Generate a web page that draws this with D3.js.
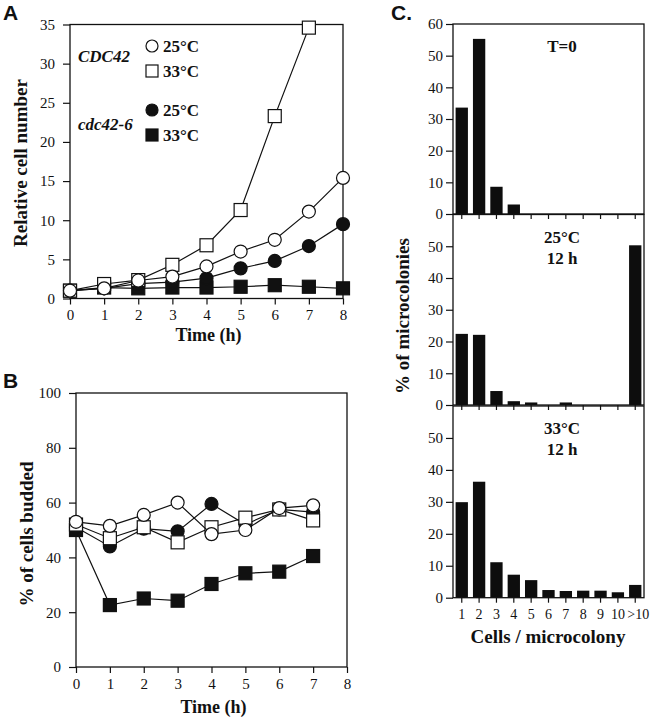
<!DOCTYPE html>
<html>
<head>
<meta charset="utf-8">
<script src="https://cdn.jsdelivr.net/npm/d3@7"></script>
<style>
  body { margin: 0; background: #fff; }
  text { font-family: "Liberation Serif", "Times New Roman", serif; fill: #111; }
</style>
</head>
<body>
<script>
const width = 660;
const height = 720;

// Panel A: relative cell number over time
const timeA = [0, 1, 2, 3, 4, 5, 6, 7, 8];
const wt25A = [1, 1.3, 2.3, 2.8, 4.1, 6.0, 7.5, 11.1, 15.4];
const wt33A = [1, 1.85, 2.35, 4.3, 6.8, 11.3, 23.3, 34.6];
const mut25A = [1, 1.3, 1.9, 2.1, 2.6, 3.85, 4.8, 6.7, 9.5];
const mut33A = [1, 1.4, 1.3, 1.4, 1.4, 1.5, 1.7, 1.5, 1.3];
const ticksA = [0, 5, 10, 15, 20, 25, 30, 35];

// Panel B: % of cells budded
const timeB = [0, 1, 2, 3, 4, 5, 6, 7];
const wt25B = [53, 51.5, 55.5, 60, 48.5, 50, 58, 59];
const mut25B = [51, 44, 50.5, 49.5, 59.5, 52, 57.5, 56.5];
const wt33B = [52, 47, 51, 45.5, 51, 54.5, 57.5, 53.5];
const mut33B = [50, 22.6, 25, 24.2, 30.3, 34.2, 34.8, 40.5];
const ticksB = [0, 20, 40, 60, 80, 100];

// Panel C: cells per microcolony
const cellCats = ["1", "2", "3", "4", "5", "6", "7", "8", "9", "10", ">10"];
const pctT0 = [33.6, 55.3, 8.6, 3.0, 0, 0, 0, 0, 0, 0, 0];
const pct25 = [22.4, 22.1, 4.4, 1.2, 0.8, 0, 0.8, 0, 0, 0, 50.3];
const pct33 = [29.9, 36.3, 11.1, 7.2, 5.5, 2.4, 2.1, 2.2, 2.2, 1.7, 4.0];

const svg = d3.select("body").append("svg")
  .attr("width", width).attr("height", height);

function panelLetter(txt, x, y) {
  svg.append("text").attr("x", x).attr("y", y)
    .style("font-family", "'Liberation Sans', Arial, sans-serif")
    .style("font-weight", "bold").style("font-size", "21px")
    .text(txt);
}

function frame(x0, y0, x1, y1) {
  svg.append("rect")
    .attr("x", x0).attr("y", y0)
    .attr("width", x1 - x0).attr("height", y1 - y0)
    .attr("fill", "none").attr("stroke", "#111").attr("stroke-width", 1.3);
}

function styleAxis(g, size) {
  g.select(".domain").remove();
  g.selectAll(".tick line").attr("stroke", "#111").attr("stroke-width", 1.2);
  g.selectAll(".tick text").style("font-size", (size || 15) + "px").attr("fill", "#111");
}

function drawMarker(g, x, y, shape, filled, s) {
  const fill = filled ? "#111" : "#fff";
  if (shape === "circle") {
    g.append("circle").attr("cx", x).attr("cy", y).attr("r", s / 2)
      .attr("fill", fill).attr("stroke", "#111").attr("stroke-width", 1.2);
  } else {
    g.append("rect").attr("x", x - s / 2).attr("y", y - s / 2)
      .attr("width", s).attr("height", s)
      .attr("fill", fill).attr("stroke", "#111").attr("stroke-width", 1.2);
  }
}

function drawSeries(xScale, yScale, xs, ys, shape, filled) {
  const pts = ys.map((v, i) => [xScale(xs[i]), yScale(v)]);
  svg.append("path")
    .attr("d", d3.line()(pts))
    .attr("fill", "none").attr("stroke", "#111").attr("stroke-width", 1.2);
  const g = svg.append("g");
  pts.forEach((p) => drawMarker(g, p[0], p[1], shape, filled, 13));
}

function lineChart(opts) {
  const x = d3.scaleLinear().domain([0, 8]).range([opts.left, opts.right]);
  const y = d3.scaleLinear().domain(opts.yDomain).range([opts.bottom, opts.top]);
  frame(opts.left, opts.top, opts.right, opts.bottom);

  svg.append("g").attr("transform", `translate(${opts.left},0)`)
    .call(d3.axisLeft(y).tickValues(opts.yTicks).tickSize(7).tickPadding(8))
    .call(styleAxis);
  svg.append("g").attr("transform", `translate(0,${opts.bottom})`)
    .call(d3.axisBottom(x).tickValues(d3.range(0, 9)).tickSize(6).tickPadding(5))
    .call(styleAxis);

  svg.append("text")
    .attr("transform", `translate(${opts.yLabelX},${opts.yLabelY}) rotate(-90)`)
    .attr("text-anchor", "middle")
    .style("font-weight", "bold").style("font-size", "19px")
    .text(opts.yLabel);
  svg.append("text")
    .attr("x", (opts.left + opts.right) / 2 + 2).attr("y", opts.xLabelY)
    .attr("text-anchor", "middle")
    .style("font-weight", "bold").style("font-size", "18px")
    .text("Time (h)");
  return { x, y };
}

// ---------- Panel A ----------
panelLetter("A", 3, 20);
const a = lineChart({
  left: 70, right: 343, top: 24.5, bottom: 298.5,
  yDomain: [0, 35], yTicks: ticksA,
  yLabel: "Relative cell number", yLabelX: 27, yLabelY: 163, xLabelY: 341,
});
drawSeries(a.x, a.y, timeA, mut33A, "square", true);
drawSeries(a.x, a.y, timeA, mut25A, "circle", true);
drawSeries(a.x, a.y, timeA, wt33A, "square", false);
drawSeries(a.x, a.y, timeA, wt25A, "circle", false);

// legend
const legend = svg.append("g");
const legendItems = [
  { y: 46, shape: "circle", filled: false, label: "25°C" },
  { y: 71, shape: "square", filled: false, label: "33°C" },
  { y: 110, shape: "circle", filled: true, label: "25°C" },
  { y: 135, shape: "square", filled: true, label: "33°C" },
];
legendItems.forEach((d) => {
  drawMarker(legend, 152, d.y, d.shape, d.filled, 12);
  legend.append("text").attr("x", 163).attr("y", d.y + 6)
    .style("font-weight", "bold").style("font-size", "17px").text(d.label);
});
legend.append("text").attr("x", 78).attr("y", 62)
  .style("font-weight", "bold").style("font-style", "italic")
  .style("font-size", "17px").text("CDC42");
legend.append("text").attr("x", 78).attr("y", 130)
  .style("font-weight", "bold").style("font-style", "italic")
  .style("font-size", "17px").text("cdc42-6");

// ---------- Panel B ----------
panelLetter("B", 3, 388);
const b = lineChart({
  left: 76, right: 347, top: 393, bottom: 667,
  yDomain: [0, 100], yTicks: ticksB,
  yLabel: "% of cells budded", yLabelX: 33, yLabelY: 534, xLabelY: 713,
});
drawSeries(b.x, b.y, timeB, mut33B, "square", true);
drawSeries(b.x, b.y, timeB, mut25B, "circle", true);
drawSeries(b.x, b.y, timeB, wt33B, "square", false);
drawSeries(b.x, b.y, timeB, wt25B, "circle", false);

// ---------- Panel C ----------
panelLetter("C.", 391, 20);
const cLeft = 453;
const cRight = 644;
const xC = d3.scaleBand().domain(cellCats).range([cLeft, cRight])
  .paddingInner(0.29).paddingOuter(0.15);

const subPanels = [
  { data: pctT0, top: 24, bottom: 214, ticks: [0, 10, 20, 30, 40, 50, 60], title: ["T=0"] },
  { data: pct25, top: 214.5, bottom: 405, ticks: [0, 10, 20, 30, 40, 50], title: ["25°C", "12 h"] },
  { data: pct33, top: 406, bottom: 597.7, ticks: [0, 10, 20, 30, 40, 50], title: ["33°C", "12 h"] },
];

subPanels.forEach((p, k) => {
  const y = d3.scaleLinear().domain([0, 60]).range([p.bottom, p.top]);
  svg.append("g").selectAll("rect")
    .data(p.data)
    .join("rect")
    .attr("x", (d, i) => xC(cellCats[i]))
    .attr("width", xC.bandwidth())
    .attr("y", (d) => y(d))
    .attr("height", (d) => y(0) - y(d))
    .attr("fill", "#0d0d0d");
  frame(cLeft, p.top, cRight, p.bottom);

  svg.append("g").attr("transform", `translate(${cLeft},0)`)
    .call(d3.axisLeft(y).tickValues(p.ticks).tickSize(7).tickPadding(3))
    .call(styleAxis);
  const xa = svg.append("g").attr("transform", `translate(0,${p.bottom})`)
    .call(d3.axisBottom(xC).tickSize(5).tickPadding(6))
    .call(styleAxis, 14);
  if (k < 2) xa.selectAll(".tick text").remove();
  else xa.selectAll(".tick text").filter((d) => d === ">10").attr("dx", 3);

  p.title.forEach((t, j) => {
    svg.append("text")
      .attr("x", 562).attr("y", p.top + 28 + j * 21)
      .attr("text-anchor", "middle")
      .style("font-weight", "bold").style("font-size", "17px")
      .text(t);
  });
});

svg.append("text")
  .attr("transform", "translate(409,316) rotate(-90)")
  .attr("text-anchor", "middle")
  .style("font-weight", "bold").style("font-size", "19px")
  .text("% of microcolonies");
svg.append("text")
  .attr("x", 548).attr("y", 643)
  .attr("text-anchor", "middle")
  .style("font-weight", "bold").style("font-size", "19px")
  .text("Cells / microcolony");
</script>
</body>
</html>
